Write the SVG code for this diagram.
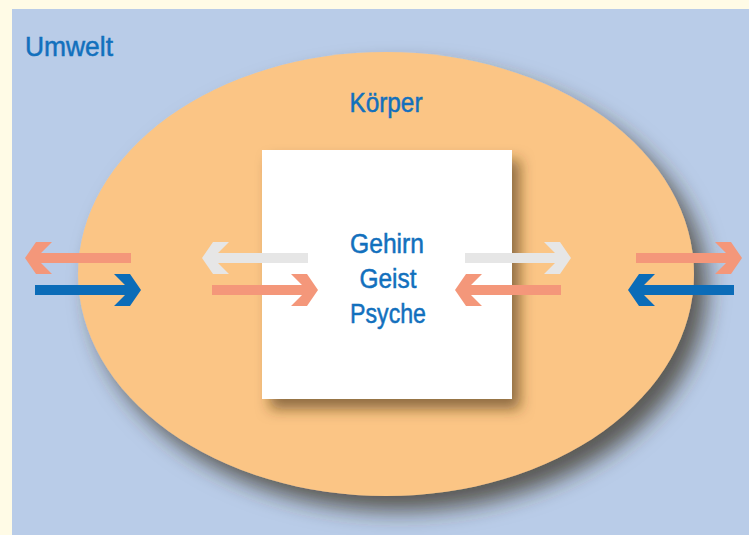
<svg xmlns="http://www.w3.org/2000/svg" xmlns:xlink="http://www.w3.org/1999/xlink" width="749" height="535" viewBox="0 0 749 535">
  <defs>
    <filter id="shEll" x="-20%" y="-20%" width="140%" height="140%">
      <feDropShadow dx="13" dy="15" stdDeviation="11" flood-color="#3a3020" flood-opacity="0.75"/>
    </filter>
    <filter id="shBox" x="-20%" y="-20%" width="140%" height="140%">
      <feDropShadow dx="8" dy="10" stdDeviation="7" flood-color="#4a3010" flood-opacity="0.6"/>
    </filter>
    <path id="arrL" d="M0,0 L11,-16 L27,-16 L16,-5 L106,-5 L106,5 L16,5 L27,16 L11,16 Z"/>
    <style>
      .lbl { font-family: "Liberation Sans", Arial, sans-serif; fill: #1270bd; stroke: #1270bd; stroke-width: 0.5px; font-size: 27px; }
      .mid { text-anchor: middle; }
      .salmon { fill: #f4977a; }
      .blue { fill: #0b6cb8; }
      .grey { fill: #e6e6e6; }
    </style>
  </defs>

  <rect x="0" y="0" width="749" height="535" fill="#fffbe6"/>
  <g id="umwelt">
    <rect x="12" y="9" width="737" height="526" fill="#b9cce8"/>
    <text class="lbl" x="25" y="56" textLength="88" lengthAdjust="spacingAndGlyphs">Umwelt</text>
  </g>

  <g id="koerper">
    <ellipse cx="386" cy="274" rx="308" ry="222" fill="#fbc585" filter="url(#shEll)"/>
    <text class="lbl mid" x="386" y="112" textLength="73" lengthAdjust="spacingAndGlyphs">Körper</text>
  </g>

  <g id="gehirn">
    <rect x="262" y="150" width="250" height="249" fill="#ffffff" filter="url(#shBox)"/>
    <text class="lbl mid" x="387" y="253" textLength="74" lengthAdjust="spacingAndGlyphs">Gehirn</text>
    <text class="lbl mid" x="388" y="288" textLength="57" lengthAdjust="spacingAndGlyphs">Geist</text>
    <text class="lbl mid" x="388" y="323" textLength="76" lengthAdjust="spacingAndGlyphs">Psyche</text>
  </g>

  <g id="connectors">
    <use xlink:href="#arrL" class="salmon" transform="translate(25,258)"/>
    <use xlink:href="#arrL" class="blue" transform="translate(141,290) scale(-1,1)"/>
    <use xlink:href="#arrL" class="grey" transform="translate(202,258)"/>
    <use xlink:href="#arrL" class="salmon" transform="translate(318,290) scale(-1,1)"/>
    <use xlink:href="#arrL" class="grey" transform="translate(571,258) scale(-1,1)"/>
    <use xlink:href="#arrL" class="salmon" transform="translate(455,290)"/>
    <use xlink:href="#arrL" class="salmon" transform="translate(742,258) scale(-1,1)"/>
    <use xlink:href="#arrL" class="blue" transform="translate(628,290)"/>
  </g>
</svg>
